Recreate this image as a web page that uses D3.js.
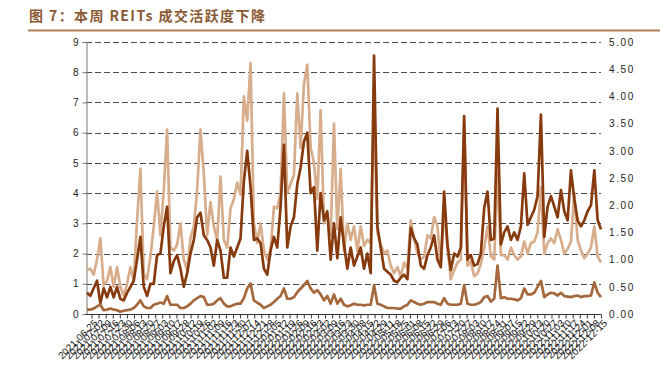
<!DOCTYPE html>
<html lang="zh">
<head>
<meta charset="utf-8">
<title>图 7：本周 REITs 成交活跃度下降</title>
<script src="https://cdn.jsdelivr.net/npm/d3@7"></script>
<style>
  body { margin: 0; background: #fff; }
  .tick text { font-family: "Liberation Sans", Arial, sans-serif; fill: #222; }
</style>
</head>
<body>
<div id="chart"></div>
<script>
// tick labels on the date axis (every 5 trading days)
var dateLabels = [
  "2021-06-25","2021-07-02","2021-07-09","2021-07-16","2021-07-23","2021-07-30","2021-08-06","2021-08-13",
  "2021-08-20","2021-08-27","2021-09-03","2021-09-10","2021-09-17","2021-09-28","2021-10-12","2021-10-19",
  "2021-10-26","2021-11-02","2021-11-09","2021-11-16","2021-11-23","2021-11-30","2021-12-07","2021-12-14",
  "2021-12-21","2021-12-28","2022-01-05","2022-01-12","2022-01-19","2022-01-26","2022-02-09","2022-02-16",
  "2022-02-23","2022-03-02","2022-03-09","2022-03-16","2022-03-23","2022-03-30","2022-04-08","2022-04-15",
  "2022-04-22","2022-04-29","2022-05-11","2022-05-18","2022-05-25","2022-06-01","2022-06-08","2022-06-15",
  "2022-06-22","2022-06-29","2022-07-06","2022-07-13","2022-07-20","2022-07-27","2022-08-03","2022-08-10",
  "2022-08-17","2022-08-24","2022-08-31","2022-09-07","2022-09-15","2022-09-22","2022-09-29","2022-10-13",
  "2022-10-20","2022-10-27","2022-11-03","2022-11-10","2022-11-17","2022-11-24","2022-12-01","2022-12-08",
  "2022-12-15"
];

// light tan series (left axis)
var seriesLight = [
  1.45,1.5,1.3,1.8,2.5,0.95,1.1,1.55,0.9,1.55,
  0.9,0.6,1.0,1.55,1.1,3.1,4.8,1.35,1.15,1.9,
  2.9,4.05,2.6,4.1,6.1,2.2,2.1,2.3,3.0,1.8,
  1.45,2.5,2.9,4.1,6.1,4.65,2.6,3.7,2.9,2.45,
  4.55,2.45,2.2,3.5,3.8,4.35,3.95,7.2,6.4,8.3,
  3.0,2.35,3.0,2.1,1.8,2.1,3.55,3.5,4.0,7.3,
  4.0,4.3,4.6,7.3,5.5,7.6,8.25,5.5,5.0,3.8,
  6.75,3.0,3.3,2.6,6.3,2.8,4.8,2.1,3.0,2.45,
  2.9,2.1,2.9,2.25,2.45,2.35,6.85,2.7,2.3,2.0,
  2.1,1.6,1.35,1.55,1.25,1.7,1.5,3.1,2.5,2.0,
  1.8,1.9,2.6,2.5,3.2,2.9,1.6,3.5,2.2,1.15,
  1.45,1.7,1.8,6.3,1.6,1.75,1.25,1.35,1.65,2.2,
  2.9,1.9,1.8,4.7,1.95,1.95,1.8,2.2,1.95,1.8,
  1.9,2.4,2.0,2.35,2.4,2.7,4.2,2.0,2.35,2.5,
  2.35,2.8,2.45,2.0,2.15,2.4,4.0,2.45,2.1,1.85,
  2.0,2.2,2.9,1.9,1.7
];

// dark brown series (left axis)
var seriesDark = [
  0.7,0.6,0.85,1.1,0.35,0.85,0.55,0.9,0.55,0.9,
  0.5,0.45,0.7,0.9,1.1,1.8,2.55,0.9,0.6,1.0,
  1.0,1.95,2.0,2.9,3.55,1.35,1.75,1.95,1.5,0.9,
  1.35,2.0,2.45,3.2,3.35,2.6,2.45,2.2,1.6,2.45,
  2.1,1.2,1.2,2.2,1.9,2.2,2.5,4.4,5.4,4.2,
  2.45,2.5,2.35,1.5,1.3,2.1,2.55,2.2,3.55,5.6,
  2.2,2.9,3.2,4.3,4.85,5.7,6.0,4.0,4.2,2.1,
  4.0,3.1,3.4,1.8,3.0,1.85,3.2,2.3,1.5,2.2,
  1.6,1.9,2.2,1.5,2.0,1.35,8.55,2.9,2.2,1.5,
  1.4,1.3,1.1,1.05,1.2,1.3,1.15,2.85,2.5,2.3,
  1.6,1.5,1.95,2.2,2.6,1.8,1.55,4.05,2.3,1.45,
  2.0,1.9,2.2,6.55,1.8,1.95,1.6,1.65,2.0,3.5,
  4.05,2.45,2.5,6.8,2.3,2.7,2.9,2.45,2.7,2.45,
  2.9,4.65,2.95,3.2,3.45,3.9,6.6,2.55,3.55,3.9,
  3.55,3.2,4.1,3.4,3.1,4.75,3.8,3.1,2.9,3.1,
  3.4,3.6,4.75,3.1,2.8
];

// mid brown series (right axis)
var seriesRight = [
  0.08,0.08,0.10,0.14,0.17,0.07,0.08,0.10,0.08,0.07,
  0.04,0.06,0.07,0.08,0.11,0.17,0.25,0.14,0.11,0.11,
  0.17,0.19,0.21,0.19,0.33,0.17,0.17,0.17,0.11,0.11,
  0.14,0.19,0.25,0.29,0.33,0.31,0.17,0.17,0.19,0.25,
  0.29,0.19,0.14,0.14,0.17,0.19,0.19,0.29,0.47,0.56,
  0.25,0.21,0.17,0.11,0.14,0.17,0.22,0.28,0.33,0.47,
  0.28,0.28,0.31,0.40,0.47,0.53,0.61,0.47,0.39,0.44,
  0.36,0.25,0.33,0.19,0.36,0.19,0.28,0.17,0.14,0.16,
  0.19,0.17,0.17,0.16,0.17,0.17,0.53,0.19,0.17,0.14,
  0.11,0.11,0.11,0.10,0.10,0.14,0.17,0.25,0.22,0.19,
  0.17,0.19,0.22,0.22,0.22,0.19,0.17,0.29,0.19,0.17,
  0.17,0.17,0.19,0.53,0.19,0.17,0.17,0.19,0.22,0.31,
  0.33,0.23,0.28,0.89,0.29,0.31,0.28,0.28,0.27,0.25,
  0.29,0.47,0.36,0.36,0.39,0.50,0.61,0.31,0.36,0.39,
  0.38,0.34,0.39,0.33,0.32,0.31,0.33,0.34,0.31,0.33,
  0.33,0.34,0.58,0.39,0.31
];

var leftTicks = [0,1,2,3,4,5,6,7,8,9];
var rightTicks = [0,0.5,1,1.5,2,2.5,3,3.5,4,4.5,5];

var w = 660, h = 368;
var x0 = 86, x1 = 601, yTop = 42, yBot = 314;

var svg = d3.select("#chart").append("svg")
  .attr("width", w).attr("height", h);

// title
svg.append("text")
  .attr("x", 29).attr("y", 21)
  .attr("font-family", "'Noto Sans CJK SC', sans-serif")
  .attr("font-size", 14).attr("font-weight", "bold")
  .attr("letter-spacing", "1.4px")
  .attr("fill", "#8a5a35")
  .text("图 7：本周 REITs 成交活跃度下降");
svg.append("line")
  .attr("x1", 28).attr("x2", 660).attr("y1", 30.5).attr("y2", 30.5)
  .attr("stroke", "#b07d57").attr("stroke-width", 2);

var xScale = d3.scaleLinear().domain([0, seriesDark.length - 1]).range([x0 + 1, x1]);
var xTicks = d3.scalePoint().domain(dateLabels).range([x0 + 5.5, x1]);
var yLeft = d3.scaleLinear().domain([0, 9]).range([yBot, yTop]);
var yRight = d3.scaleLinear().domain([0, 5]).range([yBot, yTop]);

// grid
svg.append("g").selectAll("line")
  .data(leftTicks.filter(function(d){ return d > 0; }))
  .enter().append("line")
  .attr("x1", x0).attr("x2", x1)
  .attr("y1", function(d){ return Math.round(yLeft(d)) + 0.5; })
  .attr("y2", function(d){ return Math.round(yLeft(d)) + 0.5; })
  .attr("stroke", "#4a4a4a")
  .attr("stroke-dasharray", "6,3");

// left axis
var leftAxis = d3.axisLeft(yLeft).tickValues(leftTicks).tickSize(4).tickPadding(4);
var gl = svg.append("g").attr("transform", "translate(" + (x0 + 0.5) + ",0)").call(leftAxis);
gl.select(".domain").attr("stroke", "#777");
gl.selectAll(".tick line").attr("stroke", "#777");
gl.selectAll(".tick text").attr("font-size", 10);

// right axis (labels only)
var rightAxis = d3.axisRight(yRight).tickValues(rightTicks).tickSize(0).tickPadding(8)
  .tickFormat(d3.format(".2f"));
var gr = svg.append("g").attr("transform", "translate(" + x1 + ",0)").call(rightAxis);
gr.select(".domain").remove();
gr.selectAll(".tick text").attr("font-size", 10).attr("letter-spacing", "1.6px");

// bottom axis
var bottomAxis = d3.axisBottom(xTicks).tickSize(4).tickPadding(2);
var gb = svg.append("g").attr("transform", "translate(0," + (yBot + 0.5) + ")").call(bottomAxis);
gb.select(".domain").attr("stroke", "#333").attr("d", "M" + x0 + ",0H" + x1);
gb.selectAll(".tick line").attr("stroke", "#333");
gb.selectAll(".tick text")
  .attr("font-size", 10)
  .attr("text-anchor", "end")
  .attr("dx", "-0.2em").attr("dy", "0.5em")
  .attr("transform", "rotate(-45)");

// lines
var lineLeft = d3.line()
  .x(function(d, i){ return xScale(i); })
  .y(function(d){ return yLeft(d); });
var lineRight = d3.line()
  .x(function(d, i){ return xScale(i); })
  .y(function(d){ return yRight(d); });

svg.append("path").datum(seriesLight)
  .attr("d", lineLeft).attr("fill", "none")
  .attr("stroke", "#d7ad8c").attr("stroke-width", 2.7).attr("stroke-linejoin", "round");
svg.append("path").datum(seriesDark)
  .attr("d", lineLeft).attr("fill", "none")
  .attr("stroke", "#863a0d").attr("stroke-width", 2.7).attr("stroke-linejoin", "round");
svg.append("path").datum(seriesRight)
  .attr("d", lineRight).attr("fill", "none")
  .attr("stroke", "#a5683c").attr("stroke-width", 2.7).attr("stroke-linejoin", "round");
</script>
</body>
</html>
